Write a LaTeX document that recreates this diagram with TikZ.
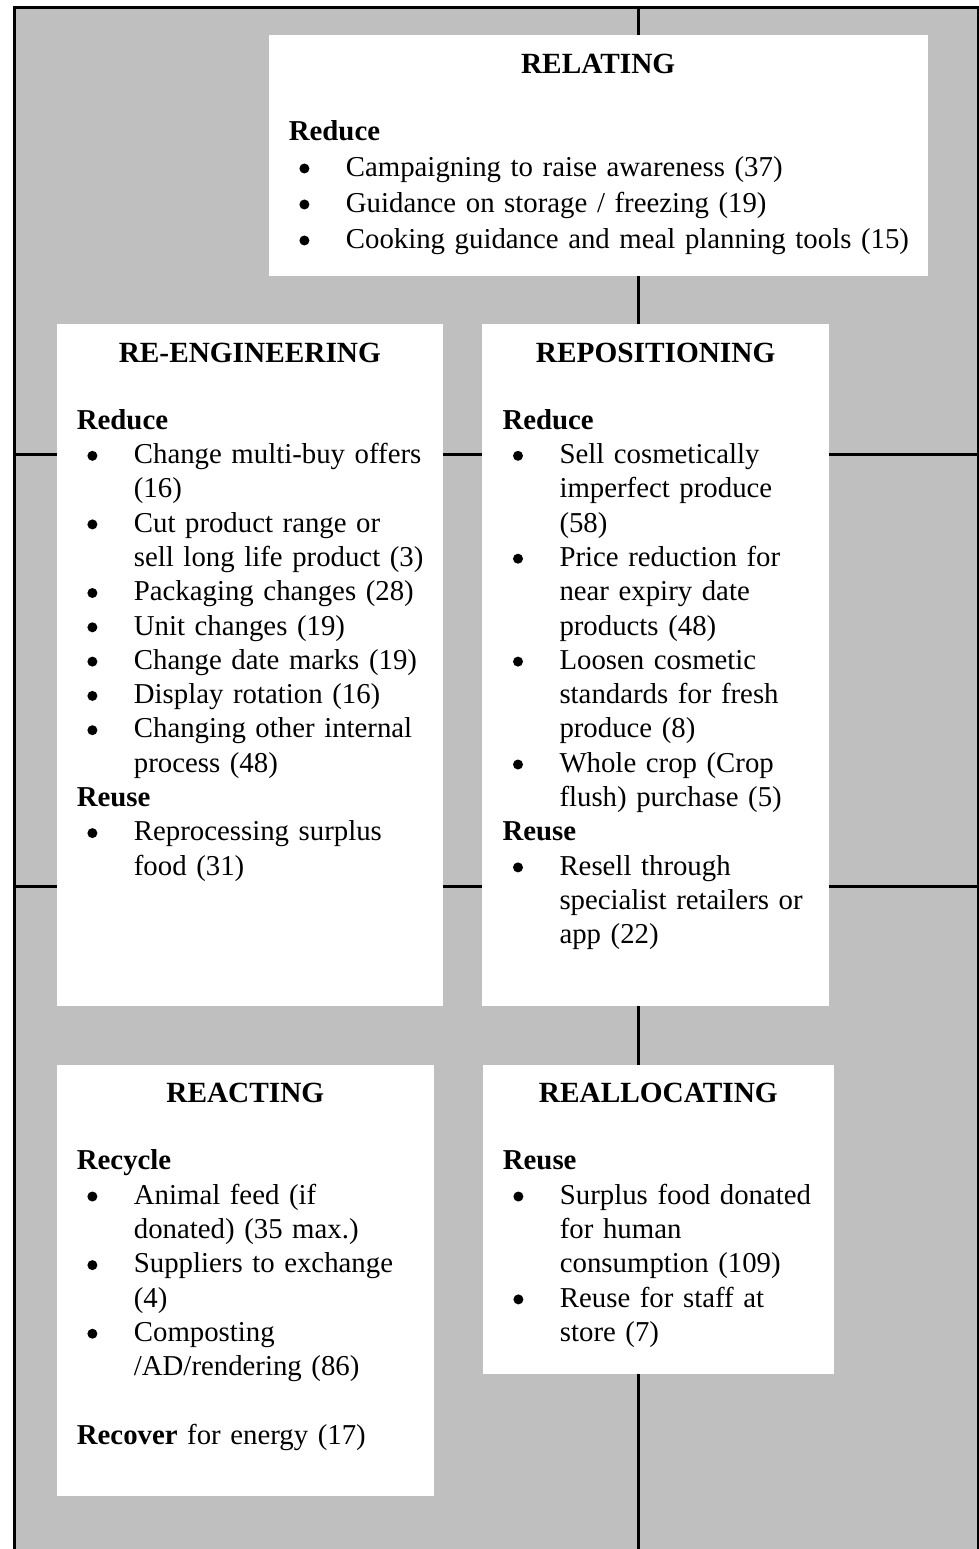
\documentclass[tikz,border=0pt]{standalone}
\usepackage{fontspec}
\setmainfont{Liberation Serif}
\usetikzlibrary{positioning}

\definecolor{panelgray}{RGB}{191,191,191}

\newcommand{\bulletdot}{\tikz[baseline=0pt]\fill (5pt,7.7pt) circle (5pt);}
\newcommand{\hd}[1]{\textbf{#1}\par}
\newcommand{\itm}[1]{\hangindent=57pt\hangafter=1\noindent\hspace*{10.5pt}\makebox[46.5pt][l]{\bulletdot}#1\par}

\begin{document}
\begin{tikzpicture}[x=1pt, y=-1pt,
  box node/.style={rectangle, fill=white, inner sep=0pt, outer sep=0pt},
  title node/.style={inner sep=0pt, font=\fontsize{29.3}{34.3}\selectfont\bfseries},
  body node/.style={inner sep=0pt, text width=900pt, font=\fontsize{28.8}{34.3}\selectfont},
  grid line/.style={line width=3pt, black}]

  \useasboundingbox (0,0) rectangle (978,1549);

  % Define background and grid
  \fill[panelgray] (14,7.7) rectangle (978,1549);
  \draw[grid line] (14,1549) -- (14,7.7) -- (978,7.7) -- (978,1549);
  \draw[grid line] (14,454.3) -- (978,454.3);
  \draw[grid line] (14,886.8) -- (978,886.8);
  \draw[grid line] (638.8,7.7) -- (638.8,1549);

  % Define boxes
  \node[box node, anchor=north west, minimum width=658.9pt, minimum height=241.3pt] (b1) at (268.7,34.7) {};
  \node[box node, anchor=north west, minimum width=386.3pt, minimum height=681.7pt] (b2) at (56.7,324) {};
  \node[box node, minimum width=346.7pt, minimum height=681.7pt] (b3) [right=39.3pt of b2.north east, anchor=north west] {};
  \node[box node, minimum width=377.3pt, minimum height=431pt] (b4) [below=59pt of b2.south west, anchor=north west] {};
  \node[box node, minimum width=351.3pt, minimum height=309.7pt] (b5) [right=48.7pt of b4.north east, anchor=north west] {};

  % Define titles
  \node[title node] (t1) [below=38.5pt of b1.north, anchor=base] {RELATING};
  \node[title node] (t2) [below=38pt of b2.north, anchor=base] {RE-ENGINEERING};
  \node[title node] (t3) [below=38pt of b3.north, anchor=base] {REPOSITIONING};
  \node[title node] (t4) [below=38pt of b4.north, anchor=base] {REACTING};
  \node[title node] (t5) [below=38pt of b5.north, anchor=base] {REALLOCATING};

  % Define lists
  \node[body node, font=\fontsize{28.8}{36}\selectfont] (l1) [below right=80.1pt and 20pt of b1.north west, anchor=north west] {%
    \hd{\strut Reduce}
    \itm{Campaigning to raise awareness (37)}
    \itm{Guidance on storage / freezing (19)}
    \itm{Cooking guidance and meal planning tools (15)}};
  \node[body node] (l2) [below right=81pt and 20pt of b2.north west, anchor=north west] {%
    \hd{\strut Reduce}
    \itm{Change multi-buy offers\newline (16)}
    \itm{Cut product range or\newline sell long life product (3)}
    \itm{Packaging changes (28)}
    \itm{Unit changes (19)}
    \itm{Change date marks (19)}
    \itm{Display rotation (16)}
    \itm{Changing other internal\newline process (48)}
    \hd{Reuse}
    \itm{Reprocessing surplus\newline food (31)}};
  \node[body node] (l3) [below right=81pt and 20pt of b3.north west, anchor=north west] {%
    \hd{\strut Reduce}
    \itm{Sell cosmetically\newline imperfect produce\newline (58)}
    \itm{Price reduction for\newline near expiry date\newline products (48)}
    \itm{Loosen cosmetic\newline standards for fresh\newline produce (8)}
    \itm{Whole crop (Crop\newline flush) purchase (5)}
    \hd{Reuse}
    \itm{Resell through\newline specialist retailers or\newline app (22)}};
  \node[body node] (l4) [below right=81pt and 20pt of b4.north west, anchor=north west] {%
    \hd{\strut Recycle}
    \itm{Animal feed (if\newline donated) (35 max.)}
    \itm{Suppliers to exchange\newline (4)}
    \itm{Composting\newline /AD/rendering (86)}
    \vspace{\baselineskip}
    \noindent\textbf{Recover} for energy (17)\par};
  \node[body node] (l5) [below right=81pt and 20pt of b5.north west, anchor=north west] {%
    \hd{\strut Reuse}
    \itm{Surplus food donated\newline for human\newline consumption (109)}
    \itm{Reuse for staff at\newline store (7)}};
\end{tikzpicture}
\end{document}
